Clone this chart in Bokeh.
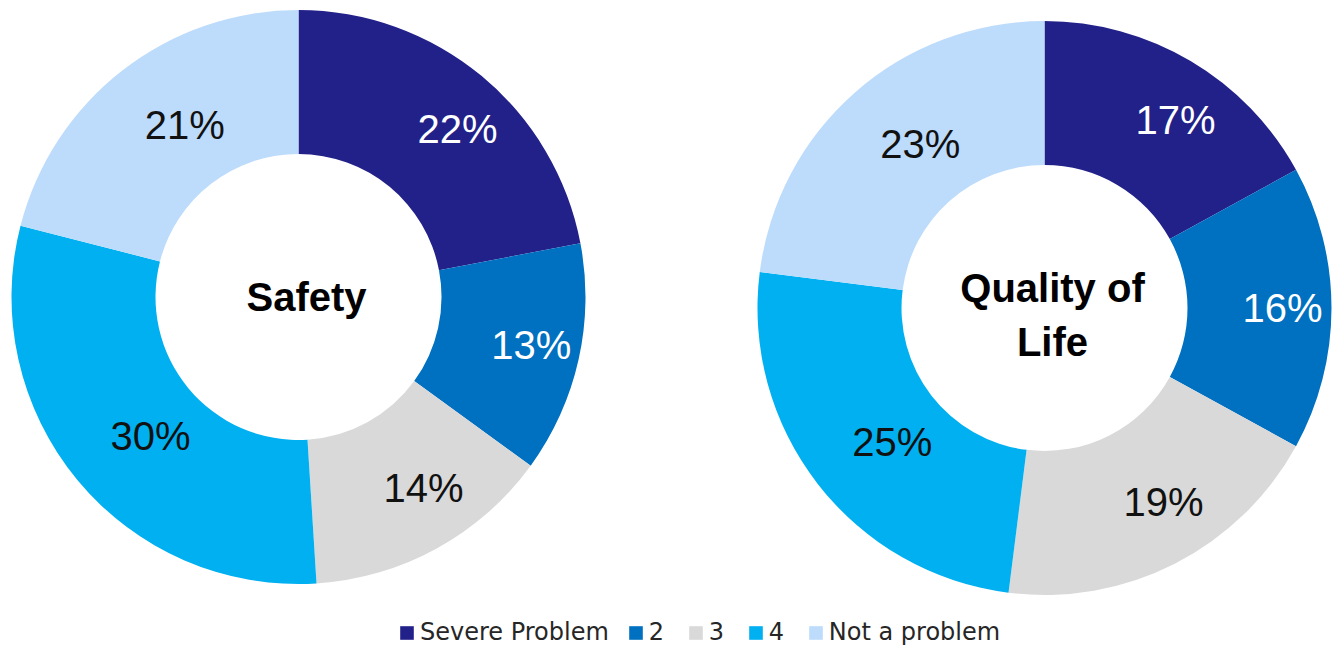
import math
from bokeh.plotting import figure
from bokeh.models import ColumnDataSource, Legend, LegendItem, Range1d
from bokeh.core.properties import value
from bokeh.embed import file_html
from bokeh.resources import INLINE

# ---- data ----
categories = ["Severe Problem", "2", "3", "4", "Not a problem"]
chart_titles = ["Safety", "Quality of\nLife"]
safety = [22, 13, 14, 30, 21]
quality_of_life = [17, 16, 19, 25, 23]
series = [safety, quality_of_life]

# ---- styles / layout ----
colors = ["#22218A", "#0070C0", "#D9D9D9", "#00B0F0", "#BDDCFC"]
label_colors = ["#FFFFFF", "#FFFFFF", "#111111", "#111111", "#111111"]
W, H = 1341, 646
centers = [(298, 349.5), (1044, 338.5)]
title_offsets = [(8, 0), (8, 7)]
R_OUT, R_IN, R_LAB = 287, 143, 218

p = figure(width=W, height=H, x_range=Range1d(0, W), y_range=Range1d(0, H),
           output_backend="svg", toolbar_location=None, min_border=0,
           x_axis_location=None, y_axis_location=None)
p.grid.visible = False
p.outline_line_color = None
p.background_fill_color = "white"

renderers = []
lab_x, lab_y, lab_t, lab_c = [], [], [], []
for ci, cat in enumerate(categories):
    xs, ys, starts, ends = [], [], [], []
    for k, vals in enumerate(series):
        total = float(sum(vals))
        before = sum(vals[:ci]) / total
        after = sum(vals[:ci + 1]) / total
        a0 = math.pi / 2 - 2 * math.pi * before
        a1 = math.pi / 2 - 2 * math.pi * after
        cx, cy = centers[k]
        xs.append(cx); ys.append(cy); starts.append(a1); ends.append(a0)
        mid = (a0 + a1) / 2
        lab_x.append(cx + R_LAB * math.cos(mid))
        lab_y.append(cy + R_LAB * math.sin(mid))
        lab_t.append(f"{vals[ci]}%")
        lab_c.append(label_colors[ci])
    src = ColumnDataSource(dict(x=xs, y=ys, start=starts, end=ends))
    r = p.annular_wedge(x="x", y="y", inner_radius=R_IN, outer_radius=R_OUT,
                        start_angle="start", end_angle="end", direction="anticlock",
                        source=src, fill_color=colors[ci], line_color=None)
    renderers.append(r)

lab_src = ColumnDataSource(dict(x=lab_x, y=lab_y, text=lab_t, color=lab_c))
p.text(x="x", y="y", text="text", source=lab_src, text_color="color",
       text_font=value("Liberation Sans"), text_font_size="40px",
       text_align="center", text_baseline="middle", x_offset=20)

for k, title in enumerate(chart_titles):
    cx, cy = centers[k]
    dx, dy = title_offsets[k]
    t_src = ColumnDataSource(dict(x=[cx], y=[cy], text=[title]))
    p.text(x="x", y="y", text="text", source=t_src, text_color="#000000",
           text_font=value("Liberation Sans"), text_font_size="40px",
           text_font_style="bold", text_align="center", text_baseline="middle",
           text_line_height=1.22, x_offset=dx, y_offset=dy)

legend = Legend(items=[LegendItem(label=c, renderers=[r]) for c, r in zip(categories, renderers)],
                orientation="horizontal", location=(398, 0),
                glyph_width=17, glyph_height=17, label_standoff=5, spacing=18,
                padding=0, margin=0, border_line_alpha=0, background_fill_alpha=0,
                label_text_font="DejaVu Sans", label_text_font_size="24px",
                label_text_color="#262626")
p.add_layout(legend)

open("out.html", "w").write(file_html(p, INLINE))
